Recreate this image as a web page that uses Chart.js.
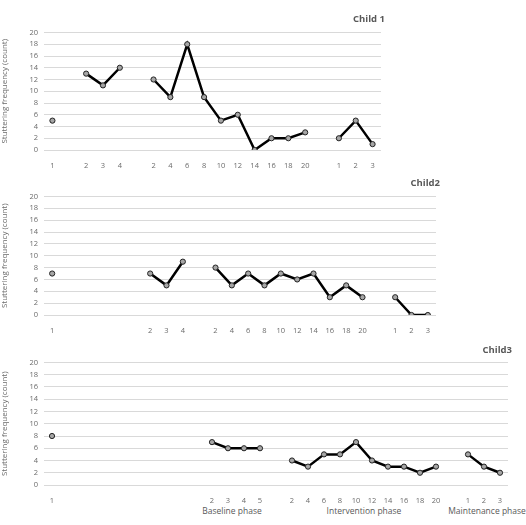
<!DOCTYPE html>
<html><head><meta charset="utf-8">
<script src="https://cdn.jsdelivr.net/npm/chart.js@4"></script>
<style>
body{margin:0;background:#fff;width:526px;height:525px;position:relative;font-family:"Open Sans",sans-serif;overflow:hidden}
.c{position:absolute;left:0}
.t{position:absolute;font-weight:bold;color:#595959;font-size:9.5px}
.p{position:absolute;color:#595959;font-size:8.5px;transform:translateX(-50%);white-space:nowrap}
</style></head><body>
<div class="c" id="w1" style="top:22px;width:386px;height:148px"><canvas id="c1"></canvas></div>
<div class="c" id="w2" style="top:186px;width:441px;height:149px"><canvas id="c2"></canvas></div>
<div class="c" id="w3" style="top:352px;width:513px;height:153px"><canvas id="c3"></canvas></div>
<div class="t" style="right:141px;top:12px">Child 1</div>
<div class="t" style="right:86px;top:176px">Child2</div>
<div class="t" style="right:14px;top:343px">Child3</div>
<div class="p" style="left:232px;top:505px">Baseline phase</div>
<div class="p" style="left:364px;top:505px">Intervention phase</div>
<div class="p" style="left:487px;top:505px">Maintenance phase</div>
<script>
const labels1 = ["1","","2","3","4","","2","4","6","8","10","12","14","16","18","20","","1","2","3"];
const child1  = [5,null,13,11,14,null,12,9,18,9,5,6,0,2,2,3,null,2,5,1];
const labels2 = ["1","","","","","","2","3","4","","2","4","6","8","10","12","14","16","18","20","","1","2","3"];
const child2  = [7,null,null,null,null,null,7,5,9,null,8,5,7,5,7,6,7,3,5,3,null,3,0,0];
const labels3 = ["1","","","","","","","","","","2","3","4","5","","2","4","6","8","10","12","14","16","18","20","","1","2","3"];
const child3  = [8,null,null,null,null,null,null,null,null,null,7,6,6,6,null,4,3,5,5,7,4,3,3,2,3,null,5,3,2];

function make(id, labels, data){
  new Chart(document.getElementById(id), {
    type:'line',
    data:{labels, datasets:[{data, borderColor:'#000', borderWidth:2.5, pointRadius:2.6,
      pointBackgroundColor:'#a6a6a6', pointBorderColor:'#222', pointBorderWidth:1, spanGaps:false, tension:0}]},
    options:{responsive:true, maintainAspectRatio:false, animation:false,
      layout:{padding:{top:8,left:0,right:0,bottom:0}},
      plugins:{legend:{display:false}, tooltip:{enabled:false}},
      scales:{
        x:{offset:true, grid:{display:false}, border:{display:false},
           ticks:{color:'#6b6b6b', font:{size:7.5, family:'Open Sans'}, maxRotation:0, autoSkip:false, padding:3},
           afterFit:s=>{s.height=20;}},
        y:{min:0,max:20,
           grid:{color:'#d9d9d9', drawTicks:false}, border:{display:false},
           ticks:{stepSize:2, autoSkip:false, color:'#6b6b6b', font:{size:7.5, family:'Open Sans'}, padding:6},
           title:{display:true, text:'Stuttering frequency (count)', color:'#6b6b6b', font:{size:8, family:'Open Sans'}, padding:0},
           afterFit:s=>{s.width=44;}}
      }}
  });
}
make('c1', labels1, child1);
make('c2', labels2, child2);
make('c3', labels3, child3);
</script>
</body></html>
